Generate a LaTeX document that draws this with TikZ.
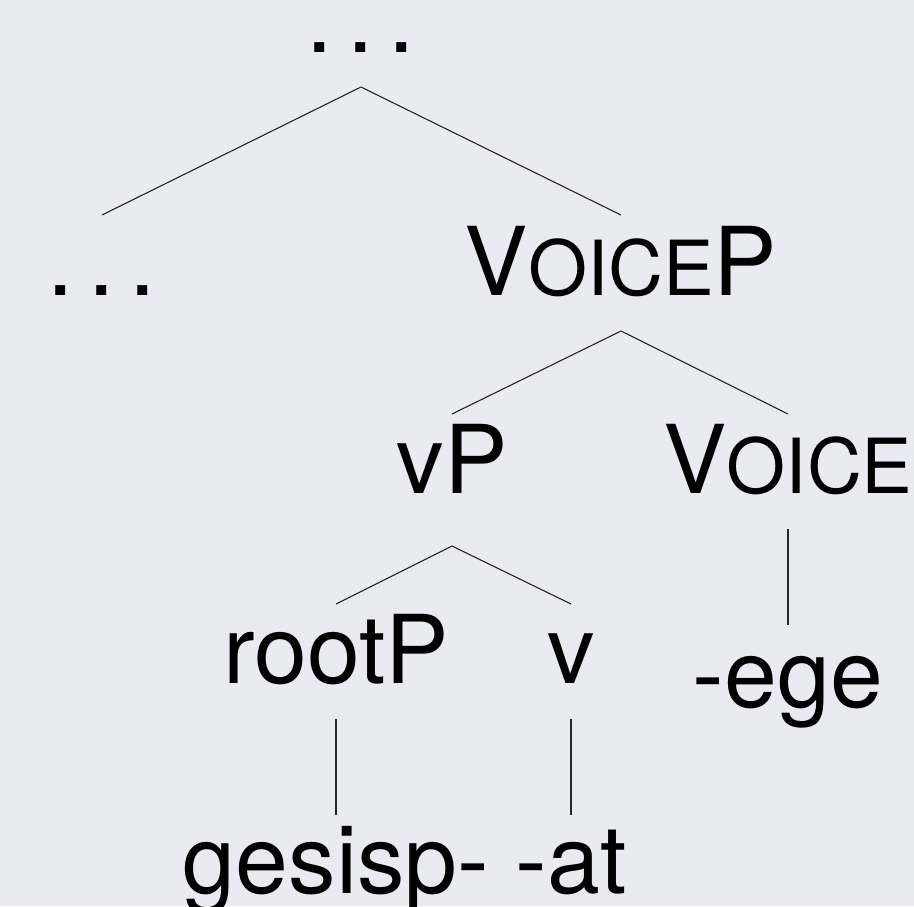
\documentclass[tikz,border=0pt]{standalone}
\usepackage{fontspec}
\setmainfont{TeX Gyre Heros}
\definecolor{bg}{RGB}{234,234,242}
\newcommand{\bigfont}{\fontsize{95}{95}\selectfont}
\newcommand{\fakesc}[1]{{\fontsize{76}{76}\selectfont #1}}
\newcommand{\tdots}{.\kern14.6pt.\kern14.6pt.}
\begin{document}
\begin{tikzpicture}[x=1pt,y=-1pt,
  lbl/.style={anchor=base,inner sep=0pt,outer sep=0pt,font=\bigfont},
  branch/.style={draw=black!85,line width=1.1pt}]
\fill[bg] (0,0) rectangle (914,906);
\useasboundingbox (0,0) rectangle (914,906);
\node[lbl] (top) at (361,52) {\tdots};
\node[lbl] (dl) at (102,295) {\tdots};
\node[lbl] (voicep) at (621,295) {V\fakesc{OICE}P};
\node[lbl] (vp) at (452,493) {vP};
\node[lbl] (voice) at (788,493) {V\fakesc{OICE}};
\node[lbl] (rootp) at (336,683) {rootP};
\node[lbl] (v) at (571,683) {v};
\node[lbl] (ege) at (788,707) {-ege};
\node[lbl] (gesisp) at (336,893) {gesisp-};
\node[lbl] (at) at (571,893) {-at};
\draw[branch] ([yshift=80pt]dl.base) -- ([yshift=-35pt]top.base) -- ([yshift=80pt]voicep.base);
\draw[branch] ([yshift=79pt]vp.base) -- ([yshift=-36pt]voicep.base) -- ([yshift=79pt]voice.base);
\draw[branch] ([yshift=79pt]rootp.base) -- ([yshift=-53pt]vp.base) -- ([yshift=79pt]v.base);
\draw[branch] ([yshift=-36pt]rootp.base) -- ([yshift=78pt]gesisp.base);
\draw[branch] ([yshift=-36pt]v.base) -- ([yshift=78pt]at.base);
\draw[branch] ([yshift=-36pt]voice.base) -- ([yshift=82pt]ege.base);
\end{tikzpicture}
\end{document}
